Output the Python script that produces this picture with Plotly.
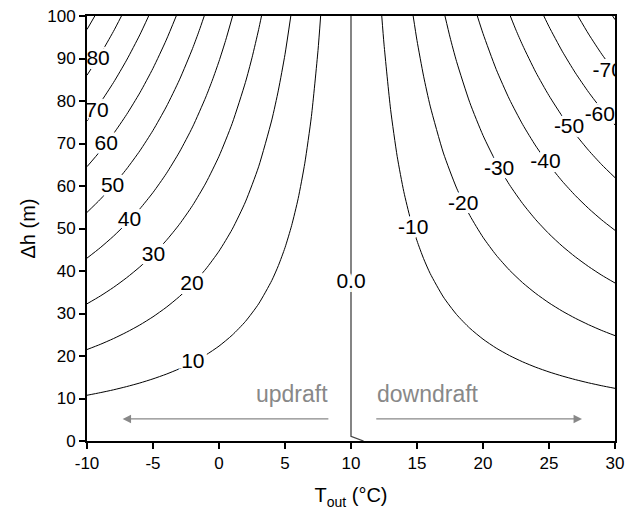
import plotly.graph_objects as go

FONT = "Liberation Sans, Arial, sans-serif"

# ---- contour lines: T_out (°C) and Δh (m) ----
t_p10 = [-10, -9, -8, -7, -6, -5, -4, -3, -2, -1, 0, 1, 2, 3, 4, 4.5, 5, 5.5, 6, 6.5, 7, 7.5, 7.7]
h_p10 = [10.76, 11.37, 12.04, 12.80, 13.65, 14.62, 15.72, 16.99, 18.48, 20.23, 22.33, 24.91, 28.12,
         32.26, 37.77, 41.28, 45.49, 50.66, 57.07, 65.36, 76.35, 91.88, 100]
t_p20 = [-10, -9, -8, -7, -6, -5, -4, -3, -2, -1, 0, 1, 2, 3, 4, 4.5, 5, 5.44]
h_p20 = [21.52, 22.73, 24.09, 25.61, 27.30, 29.23, 31.44, 33.99, 36.95, 40.46, 44.67, 49.82, 56.25,
         64.52, 75.54, 82.56, 90.98, 100]
t_p30 = [-10, -9, -8, -7, -6, -5, -4, -3, -2, -1, 0, 1, 2, 2.5, 3, 3.22]
h_p30 = [32.28, 34.10, 36.13, 38.41, 40.96, 43.85, 47.16, 50.98, 55.43, 60.69, 67.00, 74.73, 84.37,
         90.17, 96.78, 100]
t_p40 = [-10, -9, -8, -7, -6, -5, -4, -3, -2, -1, -0.5, 0, 0.5, 1.03]
h_p40 = [43.03, 45.47, 48.18, 51.21, 54.61, 58.47, 62.88, 67.98, 73.90, 80.93, 84.93, 89.34, 94.23, 100]
t_p50 = [-10, -9, -8, -7, -6, -5, -4, -3, -2, -1.5, -1.12]
h_p50 = [53.79, 56.84, 60.22, 64.01, 68.26, 73.09, 78.60, 84.97, 92.38, 96.57, 100]
t_p60 = [-10, -9, -8, -7, -6, -5, -4, -3.24]
h_p60 = [64.55, 68.20, 72.27, 76.82, 81.91, 87.70, 94.32, 100]
t_p70 = [-10, -9, -8, -7, -6, -5.33]
h_p70 = [75.31, 79.57, 84.31, 89.62, 95.56, 100]
t_p80 = [-10, -9, -8, -7.39]
h_p80 = [86.07, 90.94, 96.36, 100]
t_p90 = [-10, -9.41]
h_p90 = [96.83, 100]

t_m10 = [30, 29, 28, 27, 26, 25, 24, 23, 22, 21, 20, 19, 18, 17, 16, 15.5, 15, 14.5, 14, 13.5, 13, 12.5, 12.33]
h_m10 = [12.39, 13.00, 13.68, 14.44, 15.29, 16.25, 17.35, 18.63, 20.11, 21.86, 23.97, 26.54, 29.75,
         33.88, 39.40, 42.91, 47.11, 52.26, 58.67, 66.95, 78.00, 93.39, 100]
t_m20 = [30, 29, 28, 27, 26, 25, 24, 23, 22, 21, 20, 19, 18, 17, 16, 15.5, 15, 14.71]
h_m20 = [24.79, 26.00, 27.36, 28.87, 30.57, 32.50, 34.71, 37.25, 40.22, 43.73, 47.94, 53.08, 59.51,
         67.76, 78.80, 85.83, 94.23, 100]
t_m30 = [30, 29, 28, 27, 26, 25, 24, 23, 22, 21, 20, 19, 18, 17.5, 17.12]
h_m30 = [37.18, 39.00, 41.04, 43.31, 45.86, 48.75, 52.06, 55.88, 60.32, 65.59, 71.91, 79.62, 89.26, 95.03, 100]
t_m40 = [30, 29, 28, 27, 26, 25, 24, 23, 22, 21, 20, 19.57]
h_m40 = [49.57, 52.00, 54.71, 57.74, 61.14, 65.00, 69.41, 74.50, 80.43, 87.45, 95.88, 100]
t_m50 = [30, 29, 28, 27, 26, 25, 24, 23, 22.5, 22.07]
h_m50 = [61.97, 65.00, 68.39, 72.18, 76.43, 81.26, 86.76, 93.13, 96.68, 100]
t_m60 = [30, 29, 28, 27, 26, 25, 24.61]
h_m60 = [74.36, 78.01, 82.07, 86.61, 91.72, 97.51, 100]
t_m70 = [30, 29, 28, 27.19]
h_m70 = [86.75, 91.01, 95.75, 100]
t_m80 = [30, 29.82]
h_m80 = [99.14, 100]

t_zero = [10, 10, 10.95]
h_zero = [100, 1.1, 0]

# ---- contour labels ----
label_text = ["80", "70", "60", "50", "40", "30", "20", "10", "0.0",
              "-10", "-20", "-30", "-40", "-50", "-60", "-70"]
label_t = [-9.16, -9.24, -8.54, -8.06, -6.78, -4.96, -2.05, -1.98, 10.0,
           14.72, 18.5, 21.22, 24.73, 26.52, 28.85, 29.45]
label_h = [89.6, 77.4, 69.8, 59.8, 51.8, 43.5, 36.8, 18.4, 37.3,
           50.0, 55.7, 63.9, 65.5, 73.6, 76.5, 87.0]

# ---- flow annotations ----
flow_text = ["updraft", "downdraft"]
flow_text_t = [5.51, 15.85]
flow_text_h = [11.0, 11.0]
arrow_tail_t = [8.4, 11.8]
arrow_head_t = [-7.3, 27.5]
arrow_h = [5.2, 5.2]

x_ticks = [-10, -5, 0, 5, 10, 15, 20, 25, 30]
y_ticks = [0, 10, 20, 30, 40, 50, 60, 70, 80, 90, 100]

contours = [(t_p10, h_p10), (t_p20, h_p20), (t_p30, h_p30), (t_p40, h_p40), (t_p50, h_p50),
            (t_p60, h_p60), (t_p70, h_p70), (t_p80, h_p80), (t_p90, h_p90),
            (t_m10, h_m10), (t_m20, h_m20), (t_m30, h_m30), (t_m40, h_m40), (t_m50, h_m50),
            (t_m60, h_m60), (t_m70, h_m70), (t_m80, h_m80)]

fig = go.Figure()
for t, h in contours:
    fig.add_trace(go.Scatter(x=t, y=h, mode="lines",
                             line=dict(color="black", width=1, shape="spline", smoothing=0.6),
                             hoverinfo="skip", showlegend=False))
fig.add_trace(go.Scatter(x=t_zero, y=h_zero, mode="lines",
                         line=dict(color="#444444", width=1.3),
                         hoverinfo="skip", showlegend=False))

halo = ", ".join(f"{dx}px {dy}px 0 #fff" for dx, dy in
                 [(4, 0), (-4, 0), (0, 4), (0, -4), (3, 3), (-3, -3), (3, -3), (-3, 3),
                  (2, 0), (-2, 0), (0, 2), (0, -2), (4, 2), (-4, 2), (4, -2), (-4, -2)])
fig.add_trace(go.Scatter(x=label_t, y=label_h, mode="text", text=label_text,
                         textposition="middle center", cliponaxis=True,
                         textfont=dict(family=FONT, size=21, color="black", shadow=halo),
                         hoverinfo="skip", showlegend=False))

annotations = []
for txt, tx, ty in zip(flow_text, flow_text_t, flow_text_h):
    annotations.append(dict(x=tx, y=ty, xref="x", yref="y", text=txt, showarrow=False,
                            font=dict(family=FONT, size=23, color="#888888"),
                            xanchor="center", yanchor="middle"))
for t0, t1, hy in zip(arrow_tail_t, arrow_head_t, arrow_h):
    annotations.append(dict(x=t1, y=hy, ax=t0, ay=hy, xref="x", yref="y", axref="x", ayref="y",
                            text="", showarrow=True, arrowhead=2, arrowsize=1.3, arrowwidth=1.3,
                            arrowcolor="#888888", standoff=0, startstandoff=0))

axis_common = dict(showline=True, linecolor="black", linewidth=2, mirror=True,
                   ticks="outside", ticklen=6, tickwidth=2, tickcolor="black",
                   showgrid=False, zeroline=False, automargin=False,
                   ticklabeloverflow="allow",
                   tickfont=dict(family=FONT, size=17, color="black"))

fig.update_layout(
    width=625, height=512,
    margin=dict(l=87, r=10, t=16, b=71),
    paper_bgcolor="white", plot_bgcolor="white",
    showlegend=False,
    annotations=annotations,
    xaxis=dict(range=[-10, 30], tickvals=x_ticks, ticktext=[str(v) for v in x_ticks],
               title=dict(text="T<sub>out</sub> (°C)", font=dict(family=FONT, size=20, color="black"),
                          standoff=16),
               **axis_common),
    yaxis=dict(range=[0, 100], tickvals=y_ticks, ticktext=[str(v) for v in y_ticks],
               title=dict(text="Δh (m)", font=dict(family=FONT, size=20, color="black"),
                          standoff=6),
               **axis_common),
)

fig.write_html("out.html", config={"displayModeBar": False},
               post_script="document.body.style.margin='0';document.body.style.overflow='hidden';")
